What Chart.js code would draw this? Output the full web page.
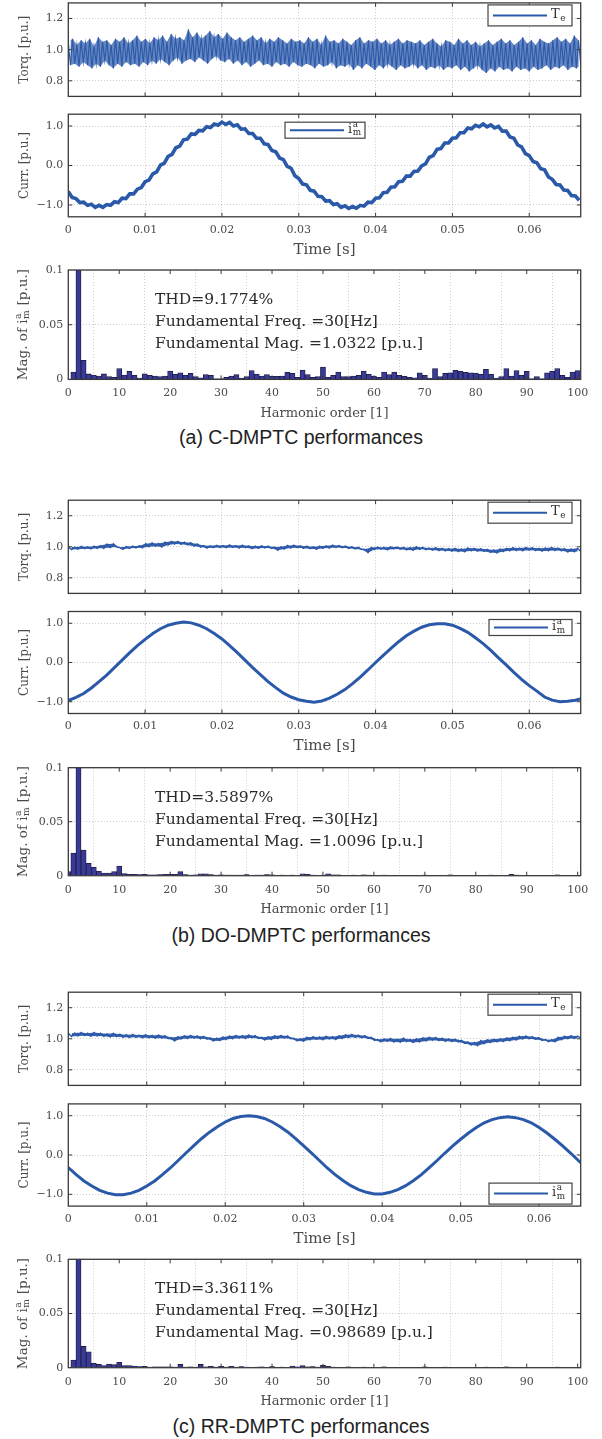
<!DOCTYPE html>
<html><head><meta charset="utf-8">
<script src="https://cdn.jsdelivr.net/npm/chart.js@4.4.1/dist/chart.umd.min.js"></script>
<style>
html,body{margin:0;padding:0;background:#fff;}
body{width:602px;height:1439px;position:relative;overflow:hidden;}
.box{position:absolute;left:0;width:602px;}
.box canvas{display:block;}
.cap{position:absolute;left:0;width:602px;text-align:center;font-family:"Liberation Sans",Arial,sans-serif;font-size:19.5px;color:#222;line-height:22px;}
</style></head><body>
<div class="cap" style="top:426px">(a) C-DMPTC performances</div>
<div class="cap" style="top:924px">(b) DO-DMPTC performances</div>
<div class="cap" style="top:1415px">(c) RR-DMPTC performances</div>
<script>
// ---------------- DATA ----------------
const TIME_TICKS = [0, 0.01, 0.02, 0.03, 0.04, 0.05, 0.06];
const TORQ_TICKS = [0.8, 1.0, 1.2];
const CURR_TICKS = [-1, 0, 1];
const MAG_TICKS = [0, 0.05, 0.1];
const HARM_TICKS = [0, 10, 20, 30, 40, 50, 60, 70, 80, 90, 100];
const TIME_MAX_A = 0.0667, TIME_MAX_B = 0.0667, TIME_MAX_C = 0.0653;
const HARM_MAX = 100.6;
const CURR_DT_A = 0.0005, CURR_DT_B = 0.001, CURR_DT_C = 0.001;

// torque samples: alternating local maxima / minima of the ripple band
const TORQUE_A = [1.05,0.90,1.07,0.91,1.03,0.89,1.06,0.92,1.04,0.90,1.07,0.88,1.02,0.91,1.08,0.89,1.05,0.93,1.06,0.90,1.03,0.88,1.07,0.91,1.05,0.89,1.08,0.92,1.04,0.90,1.06,0.91,1.09,0.89,1.05,0.92,
1.07,0.90,1.04,0.93,1.08,0.91,1.06,0.94,1.09,0.92,1.05,0.90,1.10,0.93,1.07,0.95,1.08,0.91,1.06,0.93,1.13,0.94,1.08,0.92,1.11,0.95,1.07,0.93,1.09,0.91,1.12,0.94,1.08,0.96,1.10,0.93,1.07,0.92,1.11,0.94,1.08,0.91,1.06,0.93,
1.08,0.90,1.05,0.92,1.07,0.89,1.09,0.91,1.06,0.93,1.08,0.90,1.04,0.91,1.07,0.89,1.05,0.92,1.08,0.90,1.06,0.91,1.04,0.89,1.07,0.92,1.05,0.90,
1.06,0.89,1.04,0.91,1.08,0.90,1.05,0.88,1.07,0.91,1.03,0.89,1.09,0.90,1.05,0.92,1.06,0.88,1.04,0.90,1.07,0.89,1.05,0.91,1.03,0.87,1.06,0.90,1.08,0.88,1.04,0.91,1.06,0.89,1.05,0.87,1.07,0.90,1.04,0.88,1.06,0.91,1.03,0.89,1.05,0.87,1.07,0.90,1.04,0.88,1.06,0.89,1.05,0.91,
1.04,0.88,1.06,0.90,1.03,0.87,1.05,0.89,1.07,0.88,1.04,0.90,1.02,0.87,1.06,0.89,1.05,0.88,1.03,0.90,1.07,0.87,1.04,0.89,1.06,0.86,1.03,0.88,1.05,0.90,1.02,0.87,1.04,0.85,1.06,0.88,1.03,0.86,1.05,0.89,1.07,0.87,1.04,0.88,1.06,0.86,1.03,0.89,1.05,0.87,1.08,0.88,1.04,0.86,1.06,0.89,1.03,0.87,1.07,0.88,1.05,0.90,1.04,0.87,1.06,0.89,1.08,0.88,1.05,0.90,1.07,0.87,1.04,0.89,1.09,0.88,1.06,0.90];

const TORQUE_B = [1.000,0.982,0.998,0.985,1.002,0.988,1.000,0.986,1.004,0.990,1.008,0.990,1.018,0.995,1.020,0.998,0.995,0.984,1.002,0.990,1.004,0.992,1.006,0.994,1.020,1.000,1.025,1.004,1.022,0.998,1.030,1.012,1.035,1.018,1.034,1.016,1.030,1.012,1.026,1.004,1.018,0.998,1.008,0.992,1.006,0.994,1.010,0.996,1.008,0.994,1.012,0.996,1.008,0.992,1.010,0.994,1.006,0.988,1.004,0.990,1.006,0.992,1.004,0.990,0.998,0.978,1.000,0.986,1.008,0.992,1.010,0.994,1.006,0.990,1.004,0.988,1.000,0.984,1.004,0.990,1.006,0.992,1.010,0.996,1.008,0.994,1.004,0.990,1.000,0.986,0.996,0.982,0.985,0.962,0.996,0.982,0.998,0.984,0.996,0.980,1.000,0.986,0.998,0.984,0.996,0.980,0.994,0.978,1.000,0.984,0.996,0.982,0.992,0.978,0.994,0.976,0.990,0.974,0.988,0.972,0.990,0.970,0.986,0.968,0.992,0.974,0.990,0.972,0.988,0.970,0.984,0.964,0.980,0.960,0.986,0.970,0.990,0.974,0.994,0.976,0.992,0.974,0.996,0.978,0.994,0.976,0.990,0.972,0.992,0.974,0.996,0.976,0.992,0.974,0.988,0.966,0.986,0.968,0.990,0.972];

const TORQUE_C = [1.035,1.015,1.038,1.018,1.040,1.020,1.036,1.016,1.040,1.018,1.036,1.016,1.032,1.012,1.036,1.014,1.030,1.010,1.026,1.008,1.028,1.010,1.024,1.006,1.026,1.006,1.022,1.004,1.024,1.004,1.020,1.000,1.008,0.986,1.014,0.998,1.020,1.002,1.022,1.004,1.018,1.000,1.016,0.998,1.006,0.986,1.004,0.988,1.012,0.996,1.018,1.000,1.022,1.004,1.020,1.002,1.024,1.006,1.020,1.002,1.010,0.992,1.014,0.996,1.020,1.002,1.022,1.004,1.018,1.000,1.004,0.986,1.000,0.984,1.010,0.994,1.014,0.996,1.012,0.994,1.016,0.998,1.014,0.996,1.020,1.002,1.026,1.008,1.028,1.010,1.024,1.006,1.020,1.002,1.010,0.990,0.996,0.980,1.000,0.984,1.002,0.980,0.998,0.978,1.004,0.982,0.996,0.976,1.000,0.980,1.006,0.986,1.010,0.990,1.008,0.988,1.004,0.984,1.000,0.982,0.998,0.980,0.990,0.970,0.980,0.960,0.976,0.956,0.988,0.968,0.994,0.976,0.998,0.980,1.000,0.982,1.006,0.988,1.010,0.992,1.016,0.998,1.018,1.000,1.014,0.996,1.008,0.990,0.996,0.982,0.994,0.980,1.010,0.994,1.016,1.000,1.020,1.002,1.018,1.004];

const CURRENT_A = [-0.66,-0.81,-0.84,-0.94,-0.93,-1.01,-0.98,-1.06,-1.01,-1.06,-0.99,-1.01,-0.92,-0.94,-0.83,-0.84,-0.72,-0.72,-0.60,-0.56,-0.41,-0.37,-0.21,-0.16,0.01,0.06,0.23,0.28,0.45,0.49,0.65,0.67,0.80,0.79,0.89,0.88,0.98,0.96,1.05,1.02,1.10,1.04,1.09,1.00,1.03,0.92,0.93,0.81,0.81,0.69,0.69,0.55,0.53,0.38,0.35,0.19,0.15,-0.02,-0.07,-0.26,-0.33,-0.47,-0.49,-0.63,-0.65,-0.78,-0.79,-0.90,-0.89,-0.99,-0.97,-1.06,-1.02,-1.09,-1.04,-1.08,-1.01,-1.03,-0.93,-0.94,-0.83,-0.82,-0.69,-0.68,-0.55,-0.54,-0.41,-0.40,-0.27,-0.27,-0.15,-0.14,-0.01,0.04,0.21,0.25,0.41,0.43,0.57,0.57,0.69,0.70,0.83,0.83,0.95,0.93,1.02,0.98,1.05,0.98,1.03,0.95,0.99,0.87,0.87,0.72,0.69,0.52,0.47,0.30,0.25,0.10,0.07,-0.08,-0.11,-0.29,-0.35,-0.48,-0.49,-0.62,-0.63,-0.76,-0.77,-0.88];

const CURRENT_B = [-0.97,-0.89,-0.79,-0.65,-0.49,-0.32,-0.13,0.06,0.25,0.43,0.59,0.74,0.86,0.95,1.00,1.03,1.01,0.95,0.86,0.74,0.60,0.43,0.25,0.06,-0.13,-0.31,-0.49,-0.64,-0.78,-0.88,-0.95,-0.99,-1.01,-0.98,-0.91,-0.81,-0.69,-0.54,-0.37,-0.19,0.00,0.18,0.36,0.53,0.68,0.80,0.90,0.96,0.99,0.99,0.95,0.87,0.77,0.63,0.48,0.31,0.12,-0.06,-0.25,-0.43,-0.59,-0.73,-0.88,-0.96,-1.00,-0.99,-0.96,-0.91];

const CURRENT_C = [-0.32,-0.50,-0.66,-0.79,-0.90,-0.97,-1.01,-1.01,-0.97,-0.90,-0.79,-0.66,-0.50,-0.33,-0.14,0.05,0.24,0.42,0.58,0.72,0.84,0.93,0.98,1.00,0.98,0.93,0.84,0.72,0.58,0.41,0.23,0.05,-0.14,-0.33,-0.50,-0.65,-0.78,-0.88,-0.95,-0.99,-0.99,-0.95,-0.88,-0.78,-0.65,-0.50,-0.32,-0.14,0.05,0.23,0.40,0.56,0.70,0.82,0.90,0.95,0.97,0.95,0.90,0.82,0.70,0.56,0.40,0.23,0.05,-0.14,-0.32];

const HARM_A = [0,0.0067,1.0322,0.0175,0.005,0.004,0.003,0.005,0.0025,0.002,
0.0098,0.004,0.0074,0.0037,0.0012,0.005,0.0037,0.003,0.0025,0.003,
0.0077,0.0049,0.006,0.0037,0.0055,0.0025,0.0015,0.0043,0.0037,0.0006,
0.0006,0.0018,0.003,0.0043,0.0012,0.0025,0.008,0.0049,0.003,0.0043,
0.0028,0.0028,0.003,0.0064,0.0055,0.0018,0.0086,0.0043,0.0018,0.0025,
0.0113,0.0018,0.0037,0.0067,0.0025,0.0025,0.003,0.0037,0.0077,0.0046,
0.003,0.002,0.0067,0.0043,0.0067,0.0037,0.0028,0.0018,0.0015,0.006,
0.0037,0.0012,0.0098,0.0025,0.0055,0.006,0.0083,0.0074,0.0064,0.006,
0.0058,0.0046,0.0092,0.0046,0.0012,0.0025,0.0098,0.003,0.008,0.0037,
0.0074,0.0006,0.0025,0.0006,0.006,0.0074,0.0098,0.0037,0.0018,0.0067,
0.008];
const HARM_B = [0.0037,0.021,1.0096,0.0238,0.0114,0.008,0.0043,0.0025,0.0025,0.0037,
0.009,0.0019,0.0012,0.0012,0.001,0.0012,0.0008,0.0008,0.001,0.0012,
0.0012,0.0012,0.0037,0.001,0.0006,0.0008,0.0018,0.0018,0.001,0.0006,
0.0008,0.0005,0.0006,0.0005,0.0006,0.001,0.0004,0.0005,0.0006,0.001,
0.0008,0.0004,0.0005,0.0004,0.0006,0.0004,0.0018,0.0012,0.0005,0.0004,
0.0006,0.0018,0.0008,0.0008,0.0004,0.0003,0.0005,0.0004,0.0008,0.0006,
0.0004,0.0003,0.0006,0.0004,0.0003,0.0004,0.0003,0.0004,0.0003,0.0004,
0.0005,0.0003,0.0004,0.0003,0.0004,0.0008,0.0004,0.0003,0.0004,0.0003,
0.0004,0.0003,0.0004,0.0006,0.0003,0.0004,0.0003,0.0012,0.0006,0.0003,
0.0004,0.0003,0.0004,0.0003,0.0004,0.0003,0.0008,0.0004,0.0003,0.0004,
0.0003];
const HARM_C = [0,0.0071,0.98689,0.0196,0.0146,0.004,0.003,0.002,0.0034,0.0028,
0.005,0.0019,0.002,0.0015,0.001,0.0012,0.0006,0.0008,0.0008,0.0008,
0.0008,0.0006,0.003,0.0006,0.0008,0.0006,0.003,0.0008,0.0012,0.0006,
0.0012,0.0006,0.0012,0.0006,0.001,0.0006,0.0004,0.0005,0.0008,0.0004,
0.001,0.0004,0.0006,0.0004,0.0015,0.0008,0.0019,0.0008,0.001,0.0006,
0.0022,0.0012,0.0006,0.0004,0.0004,0.0008,0.0004,0.0004,0.0006,0.0004,
0.0004,0.0003,0.0008,0.0004,0.0003,0.0004,0.0003,0.0004,0.0003,0.0004,
0.0008,0.0003,0.0004,0.0003,0.0005,0.0003,0.0004,0.0003,0.0004,0.0003,
0.0004,0.0003,0.0006,0.0003,0.0004,0.0003,0.0008,0.0003,0.0004,0.0003,
0.0004,0.0003,0.0004,0.0003,0.0004,0.0003,0.0006,0.0003,0.0004,0.0003,
0.0004];

const THD = ['9.1774', '3.5897', '3.3611'];
const FUND_FREQ = ['30', '30', '30'];
const FUND_MAG = ['1.0322', '1.0096', '0.98689'];

// ---------------- STYLE / LAYOUT ----------------
const SERIF = '"DejaVu Serif", "Liberation Serif", serif';
const LINE_COLOR = '#2b59a9';
const BAR_FILL = '#3a3a98';
const BAR_EDGE = '#1a1a3c';
const GRID = 'rgba(0,0,0,0.20)';
const TICK = '#4a4a4a';
const PLOT_L = 68.3, PLOT_R = 580.7, W = 602, PADT = 14;

Chart.defaults.font.family = SERIF;

function drawRich(ctx, parts, x, y, size, color, align) {
  const small = size * 0.68;
  const f = s => s + 'px ' + SERIF;
  const widths = parts.map(p => {
    ctx.font = f(size);
    const w = ctx.measureText(p.t).width;
    ctx.font = f(small);
    let ws = 0;
    if (p.sub) ws = Math.max(ws, ctx.measureText(p.sub).width);
    if (p.sup) ws = Math.max(ws, ctx.measureText(p.sup).width);
    return [w, ws];
  });
  let total = 0;
  widths.forEach(([a, b]) => { total += a + (b ? b + 1 : 0); });
  let cx = align === 'center' ? x - total / 2 : x;
  ctx.fillStyle = color; ctx.textBaseline = 'middle'; ctx.textAlign = 'left';
  parts.forEach((p, i) => {
    ctx.font = f(size);
    ctx.fillText(p.t, cx, y);
    cx += widths[i][0];
    if (p.sub || p.sup) {
      ctx.font = f(small);
      cx += 0.5;
      if (p.sup) ctx.fillText(p.sup, cx, y - size * 0.34);
      if (p.sub) ctx.fillText(p.sub, cx, y + size * 0.3);
      cx += widths[i][1] + 0.5;
    }
  });
}

const decor = {
  id: 'decor',
  afterDatasetsDraw(chart, args, o) {
    const ctx = chart.ctx, a = chart.chartArea;
    const xs = chart.scales.x, ys = chart.scales.y;
    ctx.save();
    ctx.strokeStyle = '#3a3a3a'; ctx.lineWidth = 1;
    ctx.beginPath();
    xs.ticks.forEach(t => {
      const p = xs.getPixelForValue(t.value);
      if (p > a.left + 1 && p < a.right - 1) {
        ctx.moveTo(p, a.bottom); ctx.lineTo(p, a.bottom - 4);
        ctx.moveTo(p, a.top); ctx.lineTo(p, a.top + 4);
      }
    });
    ys.ticks.forEach(t => {
      const p = ys.getPixelForValue(t.value);
      if (p > a.top + 1 && p < a.bottom - 1) {
        ctx.moveTo(a.left, p); ctx.lineTo(a.left + 4, p);
        ctx.moveTo(a.right, p); ctx.lineTo(a.right - 4, p);
      }
    });
    ctx.stroke();
    ctx.lineWidth = 1.3; ctx.strokeStyle = '#3a3a3a';
    ctx.strokeRect(a.left, a.top, a.right - a.left, a.bottom - a.top);
    if (o.legend) {
      const L = o.legend;
      const by = L.top !== undefined ? a.top + L.top : a.bottom - L.bottom - L.h;
      ctx.fillStyle = '#fff';
      ctx.fillRect(L.x, by, L.w, L.h);
      ctx.lineWidth = 1.2; ctx.strokeStyle = '#444';
      ctx.strokeRect(L.x, by, L.w, L.h);
      ctx.beginPath();
      ctx.strokeStyle = LINE_COLOR; ctx.lineWidth = 2;
      ctx.moveTo(L.x + 5, by + L.h / 2); ctx.lineTo(L.x + 59, by + L.h / 2);
      ctx.stroke();
      drawRich(ctx, L.parts, L.x + 63, by + L.h / 2 - 1, 13, '#333', 'left');
    }
    if (o.notes) {
      const N = o.notes;
      ctx.fillStyle = '#2a2a2a'; ctx.font = N.size + 'px ' + SERIF;
      ctx.textBaseline = 'middle'; ctx.textAlign = 'left';
      N.lines.forEach((s, i) => ctx.fillText(s, N.x, a.top + N.dy[i]));
    }
    ctx.restore();
  },
  afterDraw(chart, args, o) {
    if (!o.ytitle) return;
    const ctx = chart.ctx, a = chart.chartArea;
    ctx.save();
    ctx.translate(o.ytitleX, (a.top + a.bottom) / 2);
    ctx.rotate(-Math.PI / 2);
    drawRich(ctx, o.ytitle, 0, 0, o.ytitleSize, '#4a4a4a', 'center');
    ctx.restore();
  }
};

function mount(top, bottom, xh) {
  const ct = Math.floor(top - PADT);
  const padTop = top - ct;
  const ch = Math.ceil(bottom + xh) - ct;
  const xhEff = ct + ch - bottom;
  const div = document.createElement('div');
  div.className = 'box';
  div.style.top = ct + 'px';
  div.style.height = ch + 'px';
  const c = document.createElement('canvas');
  c.width = W; c.height = ch;
  c.style.width = W + 'px'; c.style.height = ch + 'px';
  div.appendChild(c);
  document.body.appendChild(div);
  return {canvas: c, padTop, xh: xhEff};
}

const fmtTime = v => (v === 0 ? '0' : v.toFixed(2));
const fmtTorq = v => v.toFixed(1);
const fmtCurr = v => (v < 0 ? '\u2212' + (-v).toFixed(1) : v.toFixed(1));
const fmtMag = v => (v === 0 ? '0' : String(v));
const fmtHarm = v => String(v);

function makeChart(g) {
  const m = mount(g.top, g.bottom, g.xh);
  const xTitle = g.xtitle ? {display: true, text: g.xtitle, color: TICK, font: {family: SERIF, size: g.xtitleSize}, padding: {top: 0, bottom: 0}} : {display: false};
  new Chart(m.canvas, {
    type: g.type,
    data: {datasets: g.datasets},
    options: {
      responsive: false, animation: false, devicePixelRatio: 1,
      layout: {padding: {top: m.padTop, right: W - PLOT_R, bottom: 0, left: 0}},
      plugins: {legend: {display: false}, tooltip: {enabled: false}, decor: g.decor, filler: {propagate: false}},
      scales: {
        x: {
          type: 'linear', min: g.xmin, max: g.xmax, offset: false,
          afterBuildTicks: s => { s.ticks = g.xticks.map(v => ({value: v})); },
          afterFit: s => { s.height = m.xh; },
          grid: {color: GRID, lineWidth: 1, drawTicks: false},
          border: {display: false, dash: [1, 2]},
          ticks: {display: !!g.xlabels, padding: g.xpad || 6.4, color: TICK, font: {family: SERIF, size: 11}, maxRotation: 0, autoSkip: false, callback: g.xfmt},
          title: xTitle
        },
        y: {
          type: 'linear', min: g.ymin, max: g.ymax,
          afterBuildTicks: s => { s.ticks = g.yticks.map(v => ({value: v})); },
          afterFit: s => { s.width = PLOT_L; },
          grid: {color: GRID, lineWidth: 1, drawTicks: false},
          border: {display: false, dash: [1, 2]},
          ticks: {padding: 5, color: TICK, font: {family: SERIF, size: 11}, autoSkip: false, callback: g.yfmt}
        }
      }
    },
    plugins: [decor]
  });
}

function lineSet(values, dt, width) {
  return [{
    data: values.map((v, i) => ({x: i * dt, y: v})),
    borderColor: LINE_COLOR, borderWidth: width, pointRadius: 0, tension: 0, fill: false, clip: 0
  }];
}
// ripple band: shaded region between the sampled maxima and minima, then the ripple trace on top
function bandSet(values, dt, width, bandColor) {
  const pts = values.map((v, i) => ({x: i * dt, y: v}));
  const hi = pts.filter((p, i) => i % 2 === 0);
  const lo = pts.filter((p, i) => i % 2 === 1);
  return [
    {data: hi, borderWidth: 0, borderColor: 'rgba(0,0,0,0)', pointRadius: 0, tension: 0, fill: false, clip: 0},
    {data: lo, borderWidth: 0, borderColor: 'rgba(0,0,0,0)', pointRadius: 0, tension: 0, fill: '-1', backgroundColor: bandColor, clip: 0},
    {data: pts, borderColor: LINE_COLOR, borderWidth: width, pointRadius: 0, tension: 0, fill: false, clip: 0}
  ];
}
function barSet(values) {
  return [{
    data: values.map((v, i) => ({x: i, y: v})),
    backgroundColor: BAR_FILL, borderColor: BAR_EDGE, borderWidth: 0.8,
    barPercentage: 1, categoryPercentage: 1, grouped: false, clip: 0
  }];
}

const TORQ_TITLE = [{t: 'Torq. [p.u.]'}];
const CURR_TITLE = [{t: 'Curr. [p.u.]'}];
const MAG_TITLE = [{t: 'Mag. of '}, {t: 'i', sub: 'm', sup: 'a'}, {t: ' [p.u.]'}];
const TE_LEG = [{t: 'T', sub: 'e'}];
const IM_LEG = [{t: 'i', sub: 'm', sup: 'a'}];

const GROUPS = [
  {torq: [2.9, 105.5], curr: [114.2, 216.8], harm: [270, 379.4], tmax: TIME_MAX_A, torque: TORQUE_A, current: CURRENT_A, cdt: CURR_DT_A, cw: 3.6, tw: 1.1, band: 'rgba(43,89,169,0.72)', harmv: HARM_A,
   currLeg: {x: 285, w: 80, top: 8, h: 16, parts: IM_LEG}, idx: 0},
  {torq: [500.2, 602.8], curr: [611.5, 713.5], harm: [767.7, 875.7], tmax: TIME_MAX_B, torque: TORQUE_B, current: CURRENT_B, cdt: CURR_DT_B, cw: 3, tw: 1.4, band: 'rgba(43,89,169,0.95)', harmv: HARM_B,
   currLeg: {x: 489, w: 83, top: 8, h: 16, parts: IM_LEG}, idx: 1},
  {torq: [992.2, 1094.8], curr: [1103.9, 1206.1], harm: [1259.3, 1367.7], tmax: TIME_MAX_C, torque: TORQUE_C, current: CURRENT_C, cdt: CURR_DT_C, cw: 3, tw: 1.4, band: 'rgba(43,89,169,0.95)', harmv: HARM_C,
   currLeg: {x: 489, w: 83, bottom: 2, h: 21, parts: IM_LEG}, idx: 2}
];

GROUPS.forEach(G => {
  makeChart({
    type: 'line', top: G.torq[0], bottom: G.torq[1], xh: 2,
    datasets: bandSet(G.torque, G.tmax / (G.torque.length - 1), G.tw, G.band),
    xmin: 0, xmax: G.tmax, xticks: TIME_TICKS, xlabels: false, xfmt: fmtTime,
    ymin: 0.7, ymax: 1.3, yticks: TORQ_TICKS, yfmt: fmtTorq,
    decor: {ytitle: TORQ_TITLE, ytitleX: 25, ytitleSize: 12,
            legend: {x: 488, w: 84, top: 2, h: 21, parts: TE_LEG}}
  });
  makeChart({
    type: 'line', top: G.curr[0], bottom: G.curr[1], xh: 41.5,
    datasets: lineSet(G.current, G.cdt, G.cw),
    xmin: 0, xmax: G.tmax, xticks: TIME_TICKS, xlabels: true, xfmt: fmtTime,
    xtitle: 'Time [s]', xtitleSize: 15,
    ymin: -1.3, ymax: 1.3, yticks: CURR_TICKS, yfmt: fmtCurr,
    decor: {ytitle: CURR_TITLE, ytitleX: 25, ytitleSize: 12, legend: G.currLeg}
  });
  makeChart({
    type: 'bar', top: G.harm[0], bottom: G.harm[1], xh: 41,
    datasets: barSet(G.harmv),
    xmin: 0, xmax: HARM_MAX, xticks: HARM_TICKS, xlabels: true, xfmt: fmtHarm, xpad: 7.5,
    xtitle: 'Harmonic order [1]', xtitleSize: 13,
    ymin: 0, ymax: 0.1, yticks: MAG_TICKS, yfmt: fmtMag,
    decor: {ytitle: MAG_TITLE, ytitleX: 23, ytitleSize: 13.5,
            notes: {x: 155, dy: [30, 52, 74], size: 15.5,
                    lines: ['THD=' + THD[G.idx] + '%', 'Fundamental Freq. =' + FUND_FREQ[G.idx] + '[Hz]', 'Fundamental Mag. =' + FUND_MAG[G.idx] + ' [p.u.]']}}
  });
});
</script>
</body></html>
